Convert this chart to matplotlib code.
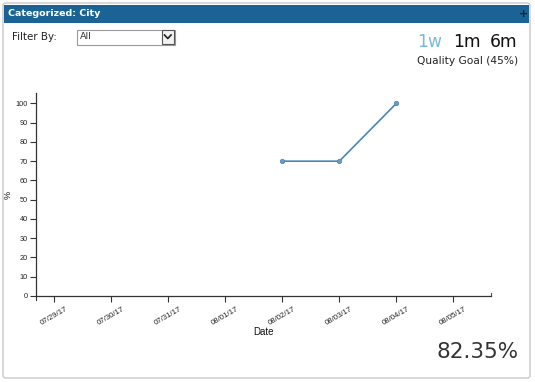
import matplotlib
matplotlib.use("Agg")
import matplotlib.pyplot as plt
from matplotlib.patches import FancyBboxPatch, Rectangle
import datetime as dt

W, H = 535, 382

# ---- data ----
tick_dates = ["07/29/17", "07/30/17", "07/31/17", "08/01/17",
              "08/02/17", "08/03/17", "08/04/17", "08/05/17"]
point_dates = ["08/02/17", "08/03/17", "08/04/17"]
point_values = [70, 70, 100]
y_ticks = [0, 10, 20, 30, 40, 50, 60, 70, 80, 90, 100]
title = "Categorized: City"
ranges = ["1w", "1m", "6m"]
goal_text = "Quality Goal (45%)"
score_text = "82.35%"

def d(s):
    return dt.datetime.strptime(s, "%m/%d/%y")

fig = plt.figure(figsize=(W / 100, H / 100), dpi=100)
fig.patch.set_facecolor("white")

def fx(x): return x / W
def fy(y): return 1 - y / H

# outer panel
panel = FancyBboxPatch((fx(3), fy(378)), fx(527), (375) / H,
                       boxstyle="round,pad=0,rounding_size=0.006",
                       transform=fig.transFigure, facecolor="white",
                       edgecolor="#c8c8c8", linewidth=1.0, zorder=-2)
fig.patches.append(panel)
# header bar
hdr = Rectangle((fx(4), fy(22.5)), fx(525), 18 / H, transform=fig.transFigure,
                facecolor="#1c6395", edgecolor="none", zorder=-1)
fig.patches.append(hdr)
fig.text(fx(7.5), fy(13.5), title, color="white", fontsize=6.8, fontweight="bold",
         family="DejaVu Sans", va="center", ha="left")
fig.text(fx(523.5), fy(14), "+", color="#0e2233", fontsize=8, fontweight="bold",
         va="center", ha="center")

# filter
fig.text(fx(12), fy(37), "Filter By:", fontsize=7.4, color="#222222",
         family="DejaVu Sans", va="center", ha="left")
box = Rectangle((fx(77), fy(44.5)), fx(98), 15 / H, transform=fig.transFigure,
                facecolor="white", edgecolor="#9a9a9a", linewidth=0.8, zorder=-1)
fig.patches.append(box)
fig.text(fx(79.5), fy(36.5), "All", fontsize=6.8, color="#333333",
         family="DejaVu Sans", va="center", ha="left")
btn = Rectangle((fx(161.5), fy(43.5)), fx(12.5), 13 / H, transform=fig.transFigure,
                facecolor="#f2f2f2", edgecolor="#555555", linewidth=0.8, zorder=-0.5)
fig.patches.append(btn)
fig.lines.append(plt.Line2D([fx(164.5), fx(167.8), fx(171)], [fy(35), fy(38.5), fy(35)],
                            transform=fig.transFigure, color="#222222", linewidth=1.2))

# range buttons
rx = [430, 466.5, 504]
rc = ["#7ab9d9", "#111111", "#111111"]
for t, x, c in zip(ranges, rx, rc):
    fig.text(fx(x), fy(42), t, fontsize=12.3, color=c, family="DejaVu Sans",
             va="center", ha="center")
fig.text(fx(468), fy(60.5), goal_text, fontsize=7.7, color="#222222",
         family="DejaVu Sans", va="center", ha="center")
fig.text(fx(519), fy(352), score_text, fontsize=15.5, color="#333333",
         family="DejaVu Sans", va="center", ha="right")

# axes
ax = fig.add_axes([fx(36), fy(296), fx(455), (296 - 93) / H])
ax.patch.set_alpha(0)
xs = [d(s) for s in point_dates]
ax.plot(xs, point_values, color="#4a86b4", linewidth=1.2, marker="o",
        markersize=3.2, markerfacecolor="#6a9cc4", markeredgecolor="#4a86b4",
        markeredgewidth=0.5, zorder=3)

t0 = d(tick_dates[0])
ax.set_xlim(t0 - dt.timedelta(days=0.32), t0 + dt.timedelta(days=7.66))
ax.set_ylim(0, 105.4)
ax.set_yticks(y_ticks)
ax.set_yticklabels([str(v) for v in y_ticks], fontsize=5.3, family="Liberation Sans", color="#222222")
ax.set_xticks([d(s) for s in tick_dates])
ax.set_xticklabels(tick_dates, fontsize=5.6, family="Liberation Sans", color="#222222",
                   rotation=30, ha="center")
ax.tick_params(axis="both", length=4, width=0.8, color="#333333", pad=2)
ax.tick_params(axis="x", pad=3)
for s in ["top", "right"]:
    ax.spines[s].set_visible(False)
for s in ["left", "bottom"]:
    ax.spines[s].set_color("#333333")
    ax.spines[s].set_linewidth(0.9)
# outer domain ticks at the ends of the x axis
ax.plot([0, 0], [0, -0.022], transform=ax.transAxes, color="#333333",
        linewidth=0.8, clip_on=False)
ax.plot([1, 1], [0, 0.015], transform=ax.transAxes, color="#555555",
        linewidth=0.8, clip_on=False)
ax.set_xlabel("Date", fontsize=7, family="Liberation Sans", color="#111111", labelpad=0)
ax.set_ylabel("%", fontsize=6.5, family="Liberation Sans", color="#111111")
ax.yaxis.set_label_coords((12.5 - 36) / 455, 0.5)

fig.savefig("out.png", dpi=100, facecolor="white")
